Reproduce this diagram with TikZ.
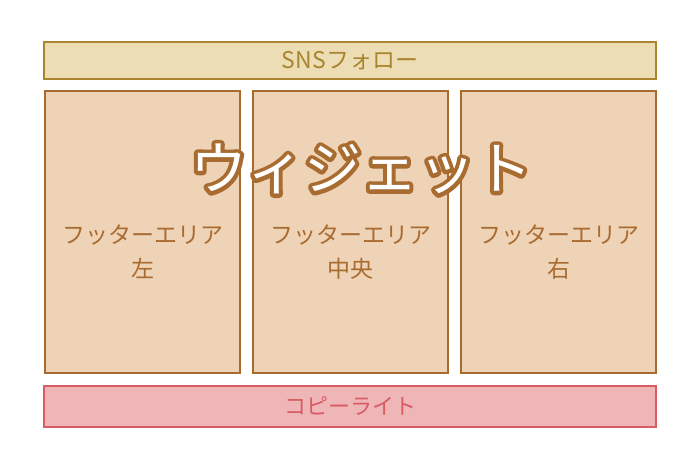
\documentclass[tikz,border=0pt]{standalone}
\usepackage{fontspec}
\setmainfont{Noto Sans CJK JP}
\usepackage{tikz}
\usepackage{xcolor}
\usetikzlibrary{calc}
\definecolor{snscolorc}{HTML}{A8852E}
\definecolor{snsfillc}{HTML}{EDDDB5}
\definecolor{footcolorc}{HTML}{A86B30}
\definecolor{footfillc}{HTML}{EFD3B6}
\definecolor{copycolorc}{HTML}{D95B64}
\definecolor{copyfillc}{HTML}{EEB6B6}
\colorlet{titlec}{white}
\newcommand{\outlined}[1]{% stroked text
\special{pdf:literal direct 2 Tr 8 w 1 j 1 J 0.659 0.420 0.188 RG 0.659 0.420 0.188 rg}#1\special{pdf:literal direct 0 Tr}}
\tikzstyle{snsbox} = [
    draw=snscolorc,
    fill=snsfillc,
    line width=1.6pt,
    rectangle,
    minimum width=612pt,
    minimum height=37pt,
    text=snscolorc,
    font=\fontsize{23}{26}\selectfont
    ]
\tikzstyle{footbox} = [
    draw=footcolorc,
    fill=footfillc,
    line width=1.6pt,
    rectangle,
    minimum width=195pt,
    minimum height=282pt
    ]
\tikzstyle{foottext} = [
    text=footcolorc,
    align=center,
    font=\fontsize{23}{34}\selectfont
    ]
\tikzstyle{copybox} = [
    draw=copycolorc,
    fill=copyfillc,
    line width=1.6pt,
    rectangle,
    minimum width=612pt,
    minimum height=41pt,
    text=copycolorc,
    font=\fontsize{22}{26}\selectfont
    ]
\tikzstyle{widgettitle} = [
    font=\fontsize{57}{62}\selectfont
    ]
\begin{document}
\begin{tikzpicture}[x=1pt,y=1pt]
\useasboundingbox (0,0) rectangle (700,468);
\node [snsbox] (sns) at (350,407.5) {SNSフォロー};
% footer columns
\node [footbox] (left) at (142.5,236) {};
\node [footbox] (center) at (350.5,236) {};
\node [footbox] (right) at (558.5,236) {};
\node [foottext] (lefttext) at ([yshift=-20pt]left.center) {フッターエリア\\左};
\node [foottext] (centertext) at ([yshift=-20pt]center.center) {フッターエリア\\中央};
\node [foottext] (righttext) at ([yshift=-20pt]right.center) {フッターエリア\\右};
\node [widgettitle, text=footcolorc] (widgetline) at (361,299) {\outlined{ウィジェット}};
\node [widgettitle, text=titlec] (widget) at (widgetline.center) {ウィジェット};
\node [copybox] (copy) at (350,61.5) {コピーライト};
\end{tikzpicture}
\end{document}
